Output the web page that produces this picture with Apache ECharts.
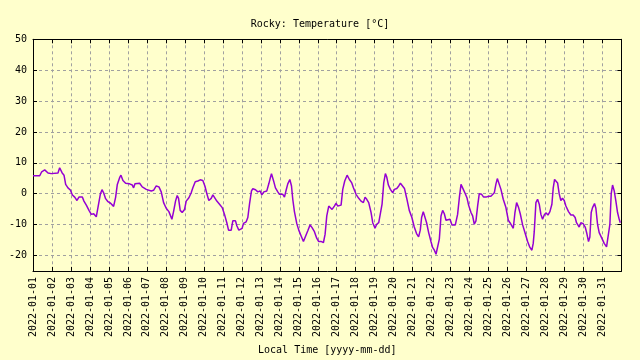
<!DOCTYPE html>
<html>
<head>
<meta charset="utf-8">
<script src="https://cdn.jsdelivr.net/npm/echarts@6/dist/echarts.min.js"></script>
<style>
html,body{margin:0;padding:0;background:#ffffcc;}
#chart{width:640px;height:360px;}
</style>
</head>
<body>
<div id="chart"></div>
<script>
// Hours since 2022-01-01 00:00 local time
const hours = [0,8.5,11,14.8,16.9,19,23,31.6,33.7,36.7,39.2,41.3,44.2,47.2,49.8,52.7,55.6,58.1,60.2,62.4,64.4,67.4,70.8,73.7,76.7,80,82.1,85.1,87.2,89.3,91.8,94.8,98.1,101.9,104.5,106.6,109.5,111.2,113.7,117.1,
122.1,125.5,127.2,128.9,134.8,138.1,143.2,149.5,152.4,155.8,159.2,162.1,165.1,168.4,171.8,175.6,177.7,180.2,182.3,184,186.1,188.6,191.6,193.7,197.1,200,202.1,205.1,208.4,211.4,214.7,217.3,219.8,222.3,225.3,227.4,229.5,232.4,235.8,239.2,242.1,245.1,247.2,250.6,252.6,
256,257.7,260.2,262.3,264.4,266.1,269.5,271.6,273.7,276.2,277.9,281.3,284.2,287.2,289.3,291.8,295.6,298.1,299.8,301.5,304,306.5,309.5,311.6,315.8,317.9,320,322.1,324.7,326.8,328.4,330.5,333.5,336,339,341.9,344.4,347.4,350.3,352.8,355.8,358.7,361.2,364.6,367.2,369.3,371.4,373.9,376.4,
378.1,381,383.2,385.3,389.5,391.6,394.1,397.1,400,403,405.1,408.4,411.8,414.7,417.7,419.8,421.9,424.4,427.4,429.5,432.4,434.5,437.1,439.2,441.3,443.4,445.5,447.2,449.3,451.8,454.8,456.9,459.9,462.4,464.5,466.6,469.6,472.3,475.7,479,482,484.9,487.5,489.6,491.3,493.4,495.5,497.6,500.2,503.1,
505.2,507.4,509.5,511.6,513.7,515.8,517.9,520,522.1,524.2,527.2,529.7,533.9,536.8,539,541.1,542.3,544,546.5,548.6,550.7,553.7,555.8,557.9,560,562.1,564.2,567.2,569.7,572.6,576,578.9,581,583.2,585.3,587,588.6,591.6,594.5,597.9,600.9,603,605.5,607.2,609.3,611.4,613.9,616,619,622.3,625.3,628.2,
630.7,632.4,633.7,635.8,637.9,640,642.1,644.2,646.3,648.4,651,653.5,656,657.7,659.4,661.1,663.2,665.2,667.3,669.4,671.6,673.7,677,680,682.9,685.4,687.1,690.5,692.6,695.5,698.1,700.2,702.3,704,705.7,707.4,709.9,711.6,713.7,715.8,719.1,722.1,725.1,727.2,729.3,731,732.7,734.8,736.9,739,741.1,742.5];

const temps = [5.8,5.8,7.1,7.7,7.1,6.7,6.5,6.7,8.4,6.8,6.0,3.0,1.9,1.2,-0.4,-1.1,-2.2,-1.1,-1.6,-1.1,-2.4,-3.7,-5.4,-6.7,-6.5,-7.5,-4.5,-0.2,1.3,0.3,-1.6,-2.6,-3.1,-4.1,-1.1,3.0,5.2,6.0,4.3,3.4,
3.2,2.8,1.9,3.2,3.4,2.2,1.4,0.9,1.1,2.5,2.2,0.6,-2.9,-4.7,-5.8,-8.3,-5.8,-2.4,-0.6,-1.5,-5.4,-6.1,-5.1,-2.4,-1.3,0.3,1.9,3.9,4.1,4.5,4.3,2.5,0,-2.2,-1.5,-0.4,-0.9,-2.4,-3.4,-4.5,-6.7,-9.5,-11.8,-11.8,-8.8,
-8.8,-10.4,-11.8,-12.3,-11.2,-9.6,-9.1,-7.7,-3.4,0.9,1.6,1.3,0.6,0.9,-0.4,0.6,0.9,3.2,4.9,6.5,4.3,1.9,0.6,-0.2,-0.2,-1.1,1.1,3.2,4.6,2.5,-1.8,-5.8,-9.7,-11.8,-13.7,-15.5,-15.1,-12.0,-10.1,-11.0,-12.3,-14.4,-15.5,-15.5,-15.8,-13.1,-7.2,-4.0,-4.5,
-5.1,-4.0,-3.1,-4.0,-3.7,1.4,4.1,6.0,4.6,3.5,1.9,-0.2,-1.5,-2.4,-2.9,-1.1,-1.8,-2.9,-6.1,-9.4,-11.2,-9.9,-9.4,-8.8,-3.4,3.5,6.5,5.4,2.8,1.4,0.3,1.4,1.7,2.5,3.4,2.8,1.7,-1.3,-5.4,-7.7,-10.8,-12.9,-14.0,-11.8,-7.7,-5.8,-5.8,-9.4,-12.6,-15.5,
-17.4,-18.3,-19.6,-19.6,-14.7,-7.2,-5.4,-6.5,-8.6,-8.6,-8.3,-10.1,-10.1,-6.7,-1.3,3.0,3.0,1.4,0,-1.3,-3.7,-6.1,-7.2,-9.9,-8.8,-4.0,0,-0.2,-1.1,-1.1,-0.8,-0.8,-0.4,0.3,3.2,4.9,4.3,1.4,-1.8,-4.5,-8.6,-9.4,-9.4,-11.2,-6.1,-2.9,-4.5,-6.5,-10.1,-12.9,-15.5,-17.4,
-18.3,-16.1,-12.3,-2.9,-1.8,-3.4,-6.7,-8.3,-6.9,-6.2,-6.9,-5.8,-3.4,1.9,4.6,4.9,3.5,0,-2.2,-1.5,-2.2,-4.0,-5.8,-6.9,-6.9,-7.7,-9.4,-10.8,-9.4,-9.7,-10.8,-12.9,-15.5,-14.0,-6.1,-4.5,-3.2,-4.7,-9.9,-12.6,-14.4,-16.1,-17.2,-17.4,-9.9,0,2.8,0.9,-2.4,-6.1,-8.3,-9.4];

const dayLabels = ['2022-01-01','2022-01-02','2022-01-03','2022-01-04','2022-01-05','2022-01-06','2022-01-07','2022-01-08','2022-01-09','2022-01-10','2022-01-11','2022-01-12','2022-01-13','2022-01-14','2022-01-15','2022-01-16','2022-01-17','2022-01-18','2022-01-19','2022-01-20','2022-01-21','2022-01-22','2022-01-23','2022-01-24','2022-01-25','2022-01-26','2022-01-27','2022-01-28','2022-01-29','2022-01-30','2022-01-31'];
const yTicks = [-20,-10,0,10,20,30,40,50];

const titleText = 'Rocky: Temperature [°C]';
const xName = 'Local Time [yyyy-mm-dd]';

const FONT = 'DejaVu Sans Mono';
const gridStyle = {color:'#a0a0a0', type:[3,3], width:1};
const points = hours.map((h,i)=>[h,temps[i]]);

const chart = echarts.init(document.getElementById('chart'), null, {renderer:'canvas'});
chart.setOption({
  backgroundColor:'#ffffcc',
  animation:false,
  title:{text:titleText, left:'center', top:14, textStyle:{fontFamily:FONT, fontSize:10, fontWeight:'normal', color:'#000'}},
  grid:{left:33, right:18.5, top:39.3, bottom:88, containLabel:false},
  xAxis:[{
    type:'value', min:0, max:744, interval:24, position:'bottom',
    name:xName, nameLocation:'middle', nameGap:73,
    nameTextStyle:{fontFamily:FONT, fontSize:10, color:'#000'},
    axisLine:{show:true, onZero:false, lineStyle:{color:'#000', width:1}},
    axisTick:{show:true, inside:true, length:4, lineStyle:{color:'#000'}},
    axisLabel:{rotate:90, margin:6, fontFamily:FONT, fontSize:10, color:'#000', showMaxLabel:false,
      formatter:function(v){const i=Math.round(v/24); return dayLabels[i]||'';}},
    splitLine:{show:true, lineStyle:gridStyle}
  },{
    type:'value', min:0, max:744, interval:24, position:'top',
    axisLine:{show:true, onZero:false, lineStyle:{color:'#000', width:1}},
    axisTick:{show:true, inside:true, length:4, lineStyle:{color:'#000'}},
    axisLabel:{show:false}, splitLine:{show:false}
  }],
  yAxis:[{
    type:'value', min:-25, max:50, position:'left',
    axisLine:{show:true, onZero:false, lineStyle:{color:'#000', width:1}},
    axisTick:{show:true, inside:true, length:4, customValues:yTicks, lineStyle:{color:'#000'}},
    axisLabel:{customValues:yTicks, margin:6, fontFamily:FONT, fontSize:10, color:'#000'},
    splitLine:{show:true, lineStyle:gridStyle}
  },{
    type:'value', min:-25, max:50, position:'right',
    axisLine:{show:true, onZero:false, lineStyle:{color:'#000', width:1}},
    axisTick:{show:true, inside:true, length:4, customValues:yTicks, lineStyle:{color:'#000'}},
    axisLabel:{show:false}, splitLine:{show:false}
  }],
  series:[{
    type:'line', xAxisIndex:0, yAxisIndex:0, data:points, showSymbol:false,
    lineStyle:{color:'#9400d3', width:1.5}, itemStyle:{color:'#9400d3'}, smooth:false
  }]
});
</script>
</body>
</html>
